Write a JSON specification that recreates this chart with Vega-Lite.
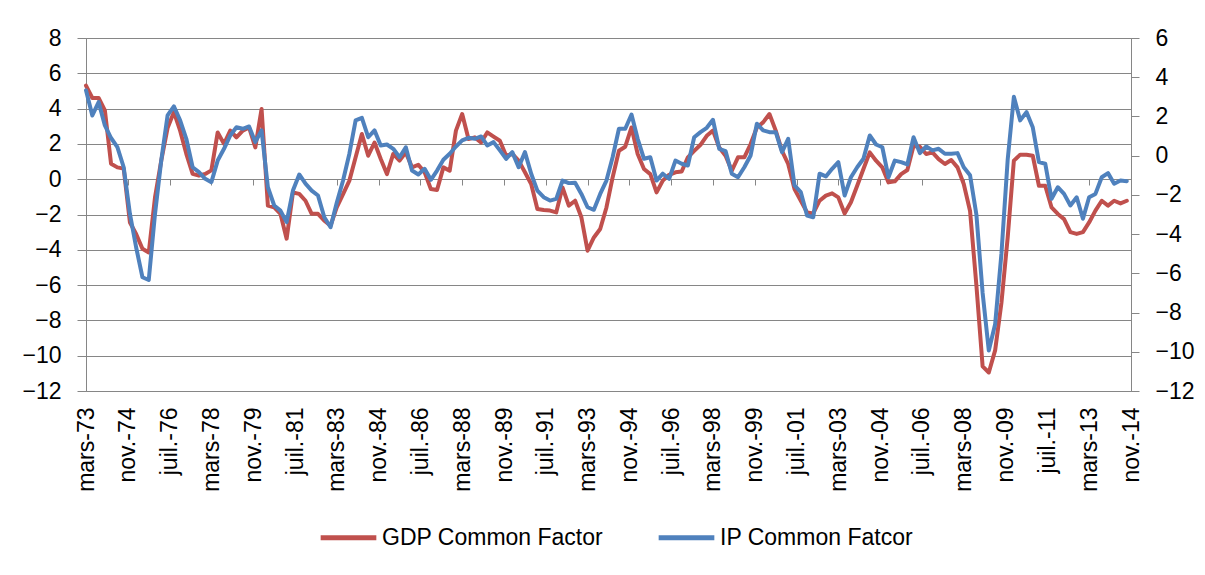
{
"$schema": "https://vega.github.io/schema/vega-lite/v6.json",
"width": 1045,
"height": 353,
"autosize": {"type": "none"},
"padding": {"left": 86, "top": 38, "right": 74, "bottom": 184},
"background": "white",
"config": {
  "font": "Liberation Sans",
  "view": {"stroke": "#868686", "strokeWidth": 1},
  "axis": {"labelFont": "Liberation Sans", "labelFontSize": 23, "labelColor": "#000000", "domainColor": "#868686", "tickColor": "#868686", "gridColor": "#868686", "domainWidth": 1, "tickWidth": 1, "gridWidth": 1}
},
"data": {"values": [
{"d":"1973-03-01","g":5.3,"i":3.33},{"d":"1973-06-01","g":4.6,"i":2.05},{"d":"1973-09-01","g":4.6,"i":2.73},{"d":"1973-12-01","g":3.9,"i":1.54},
{"d":"1974-03-01","g":0.88,"i":0.9},{"d":"1974-06-01","g":0.67,"i":0.44},{"d":"1974-09-01","g":0.6,"i":-0.59},{"d":"1974-12-01","g":-2.45,"i":-2.97},
{"d":"1975-03-01","g":-3.1,"i":-4.67},{"d":"1975-06-01","g":-3.94,"i":-6.2},{"d":"1975-09-01","g":-4.15,"i":-6.34},{"d":"1975-12-01","g":-1.03,"i":-2.97},
{"d":"1976-03-01","g":1.05,"i":-0.25},{"d":"1976-06-01","g":2.9,"i":2.05},{"d":"1976-09-01","g":3.8,"i":2.51},{"d":"1976-12-01","g":2.75,"i":1.8},
{"d":"1977-03-01","g":1.44,"i":0.86},{"d":"1977-06-01","g":0.3,"i":-0.59},{"d":"1977-09-01","g":0.2,"i":-0.84},{"d":"1977-12-01","g":0.3,"i":-1.18},
{"d":"1978-03-01","g":0.5,"i":-1.35},{"d":"1978-06-01","g":2.65,"i":-0.25},{"d":"1978-09-01","g":2.0,"i":0.35},{"d":"1978-12-01","g":2.75,"i":1.03},
{"d":"1979-03-01","g":2.37,"i":1.45},{"d":"1979-06-01","g":2.75,"i":1.37},{"d":"1979-09-01","g":2.93,"i":1.49},{"d":"1979-12-01","g":1.8,"i":0.69},
{"d":"1980-03-01","g":3.98,"i":1.29},{"d":"1980-06-01","g":-1.5,"i":-1.61},{"d":"1980-09-01","g":-1.6,"i":-2.54},{"d":"1980-12-01","g":-1.96,"i":-2.8},
{"d":"1981-03-01","g":-3.37,"i":-3.39},{"d":"1981-06-01","g":-0.75,"i":-1.78},{"d":"1981-09-01","g":-0.83,"i":-0.96},{"d":"1981-12-01","g":-1.22,"i":-1.43},
{"d":"1982-03-01","g":-1.96,"i":-1.78},{"d":"1982-06-01","g":-1.96,"i":-2.03},{"d":"1982-09-01","g":-2.35,"i":-3.14},{"d":"1982-12-01","g":-2.63,"i":-3.65},
{"d":"1983-03-01","g":-1.6,"i":-2.4},{"d":"1983-06-01","g":-0.84,"i":-1.27},{"d":"1983-09-01","g":-0.08,"i":0.1},{"d":"1983-12-01","g":1.24,"i":1.8},
{"d":"1984-03-01","g":2.56,"i":1.93},{"d":"1984-06-01","g":1.33,"i":0.94},{"d":"1984-09-01","g":2.08,"i":1.29},{"d":"1984-12-01","g":1.14,"i":0.52},
{"d":"1985-03-01","g":0.29,"i":0.57},{"d":"1985-06-01","g":1.43,"i":0.35},{"d":"1985-09-01","g":1.05,"i":-0.08},{"d":"1985-12-01","g":1.52,"i":0.43},
{"d":"1986-03-01","g":0.67,"i":-0.76},{"d":"1986-06-01","g":0.82,"i":-0.96},{"d":"1986-09-01","g":0.39,"i":-0.67},{"d":"1986-12-01","g":-0.56,"i":-1.23},
{"d":"1987-03-01","g":-0.61,"i":-0.76},{"d":"1987-06-01","g":0.67,"i":-0.21},{"d":"1987-09-01","g":0.48,"i":0.1},{"d":"1987-12-01","g":2.75,"i":0.47},
{"d":"1988-03-01","g":3.69,"i":0.78},{"d":"1988-06-01","g":2.28,"i":0.91},{"d":"1988-09-01","g":2.37,"i":0.86},{"d":"1988-12-01","g":2.08,"i":0.98},
{"d":"1989-03-01","g":2.65,"i":0.52},{"d":"1989-06-01","g":2.41,"i":0.69},{"d":"1989-09-01","g":2.18,"i":0.27},{"d":"1989-12-01","g":1.33,"i":-0.16},
{"d":"1990-03-01","g":1.43,"i":0.18},{"d":"1990-06-01","g":1.05,"i":-0.59},{"d":"1990-09-01","g":0.39,"i":0.18},{"d":"1990-12-01","g":-0.27,"i":-0.92},
{"d":"1991-03-01","g":-1.69,"i":-1.78},{"d":"1991-06-01","g":-1.75,"i":-2.12},{"d":"1991-09-01","g":-1.78,"i":-2.29},{"d":"1991-12-01","g":-1.88,"i":-2.2},
{"d":"1992-03-01","g":-0.46,"i":-1.27},{"d":"1992-06-01","g":-1.5,"i":-1.4},{"d":"1992-09-01","g":-1.22,"i":-1.38},{"d":"1992-12-01","g":-2.16,"i":-1.95},
{"d":"1993-03-01","g":-4.05,"i":-2.63},{"d":"1993-06-01","g":-3.3,"i":-2.76},{"d":"1993-09-01","g":-2.82,"i":-1.95},{"d":"1993-12-01","g":-1.6,"i":-1.27},
{"d":"1994-03-01","g":0.1,"i":-0.08},{"d":"1994-06-01","g":1.61,"i":1.37},{"d":"1994-09-01","g":1.84,"i":1.37},{"d":"1994-12-01","g":2.93,"i":2.1},
{"d":"1995-03-01","g":1.43,"i":0.86},{"d":"1995-06-01","g":0.58,"i":-0.16},{"d":"1995-09-01","g":0.29,"i":-0.08},{"d":"1995-12-01","g":-0.75,"i":-1.27},
{"d":"1996-03-01","g":-0.08,"i":-0.92},{"d":"1996-06-01","g":0.25,"i":-1.18},{"d":"1996-09-01","g":0.39,"i":-0.25},{"d":"1996-12-01","g":0.44,"i":-0.41},
{"d":"1997-03-01","g":1.24,"i":-0.5},{"d":"1997-06-01","g":1.6,"i":0.94},{"d":"1997-09-01","g":1.95,"i":1.2},{"d":"1997-12-01","g":2.46,"i":1.42},
{"d":"1998-03-01","g":2.75,"i":1.83},{"d":"1998-06-01","g":1.8,"i":0.35},{"d":"1998-09-01","g":1.33,"i":0.23},{"d":"1998-12-01","g":0.48,"i":-0.92},
{"d":"1999-03-01","g":1.24,"i":-1.1},{"d":"1999-06-01","g":1.24,"i":-0.59},{"d":"1999-09-01","g":1.99,"i":0.01},{"d":"1999-12-01","g":2.93,"i":1.63},
{"d":"2000-03-01","g":3.22,"i":1.29},{"d":"2000-06-01","g":3.69,"i":1.2},{"d":"2000-09-01","g":2.75,"i":1.2},{"d":"2000-12-01","g":1.61,"i":0.18},
{"d":"2001-03-01","g":0.86,"i":0.86},{"d":"2001-06-01","g":-0.56,"i":-1.52},{"d":"2001-09-01","g":-1.22,"i":-1.86},{"d":"2001-12-01","g":-1.88,"i":-3.05},
{"d":"2002-03-01","g":-1.94,"i":-3.14},{"d":"2002-06-01","g":-1.22,"i":-0.92},{"d":"2002-09-01","g":-0.93,"i":-1.06},{"d":"2002-12-01","g":-0.8,"i":-0.67},
{"d":"2003-03-01","g":-1.03,"i":-0.33},{"d":"2003-06-01","g":-1.94,"i":-2.03},{"d":"2003-09-01","g":-1.31,"i":-1.1},{"d":"2003-12-01","g":-0.37,"i":-0.59},
{"d":"2004-03-01","g":0.58,"i":-0.16},{"d":"2004-06-01","g":1.52,"i":1.03},{"d":"2004-09-01","g":1.05,"i":0.57},{"d":"2004-12-01","g":0.67,"i":0.43},
{"d":"2005-03-01","g":-0.18,"i":-1.1},{"d":"2005-06-01","g":-0.12,"i":-0.25},{"d":"2005-09-01","g":0.29,"i":-0.33},{"d":"2005-12-01","g":0.52,"i":-0.45},
{"d":"2006-03-01","g":1.9,"i":0.94},{"d":"2006-06-01","g":1.84,"i":0.13},{"d":"2006-09-01","g":1.43,"i":0.47},{"d":"2006-12-01","g":1.52,"i":0.27},
{"d":"2007-03-01","g":1.14,"i":0.35},{"d":"2007-06-01","g":0.86,"i":0.1},{"d":"2007-09-01","g":1.09,"i":0.1},{"d":"2007-12-01","g":0.67,"i":0.13},
{"d":"2008-03-01","g":-0.27,"i":-0.59},{"d":"2008-06-01","g":-1.8,"i":-1.0},{"d":"2008-09-01","g":-6.0,"i":-3.0},{"d":"2008-12-01","g":-10.6,"i":-7.0},
{"d":"2009-03-01","g":-10.95,"i":-9.94},{"d":"2009-06-01","g":-9.7,"i":-8.6},{"d":"2009-09-01","g":-7.0,"i":-5.0},{"d":"2009-12-01","g":-3.3,"i":-0.2},
{"d":"2010-03-01","g":1.05,"i":3.0},{"d":"2010-06-01","g":1.39,"i":1.8},{"d":"2010-09-01","g":1.39,"i":2.22},{"d":"2010-12-01","g":1.33,"i":1.45},
{"d":"2011-03-01","g":-0.37,"i":-0.33},{"d":"2011-06-01","g":-0.37,"i":-0.41},{"d":"2011-09-01","g":-1.6,"i":-2.2},{"d":"2011-12-01","g":-1.97,"i":-1.61},
{"d":"2012-03-01","g":-2.26,"i":-1.95},{"d":"2012-06-01","g":-3.0,"i":-2.54},{"d":"2012-09-01","g":-3.1,"i":-2.12},{"d":"2012-12-01","g":-3.0,"i":-3.22},
{"d":"2013-03-01","g":-2.45,"i":-2.12},{"d":"2013-06-01","g":-1.78,"i":-1.95},{"d":"2013-09-01","g":-1.22,"i":-1.1},{"d":"2013-12-01","g":-1.5,"i":-0.89},
{"d":"2014-03-01","g":-1.22,"i":-1.43},{"d":"2014-06-01","g":-1.37,"i":-1.27},{"d":"2014-09-01","g":-1.22,"i":-1.3}
]},
"layer": [
  {
    "mark": {"type": "line", "strokeWidth": 4, "strokeJoin": "round", "strokeCap": "round"},
    "encoding": {
      "x": {"field": "d", "type": "temporal",
        "scale": {"type": "utc", "domain": [{"year": 1973, "month": 3, "date": 1, "utc": true}, {"year": 2014, "month": 11, "date": 1, "utc": true}]},
        "axis": {"orient": "bottom", "title": null, "grid": false, "domain": false, "ticks": false,
          "labelAngle": -90, "labelPadding": 16, "labelFlush": false, "labelOverlap": false, "labelBound": false,
          "values": [
            {"year": 1973, "month": 3, "date": 1, "utc": true}, {"year": 1974, "month": 11, "date": 1, "utc": true},
            {"year": 1976, "month": 7, "date": 1, "utc": true}, {"year": 1978, "month": 3, "date": 1, "utc": true},
            {"year": 1979, "month": 11, "date": 1, "utc": true}, {"year": 1981, "month": 7, "date": 1, "utc": true},
            {"year": 1983, "month": 3, "date": 1, "utc": true}, {"year": 1984, "month": 11, "date": 1, "utc": true},
            {"year": 1986, "month": 7, "date": 1, "utc": true}, {"year": 1988, "month": 3, "date": 1, "utc": true},
            {"year": 1989, "month": 11, "date": 1, "utc": true}, {"year": 1991, "month": 7, "date": 1, "utc": true},
            {"year": 1993, "month": 3, "date": 1, "utc": true}, {"year": 1994, "month": 11, "date": 1, "utc": true},
            {"year": 1996, "month": 7, "date": 1, "utc": true}, {"year": 1998, "month": 3, "date": 1, "utc": true},
            {"year": 1999, "month": 11, "date": 1, "utc": true}, {"year": 2001, "month": 7, "date": 1, "utc": true},
            {"year": 2003, "month": 3, "date": 1, "utc": true}, {"year": 2004, "month": 11, "date": 1, "utc": true},
            {"year": 2006, "month": 7, "date": 1, "utc": true}, {"year": 2008, "month": 3, "date": 1, "utc": true},
            {"year": 2009, "month": 11, "date": 1, "utc": true}, {"year": 2011, "month": 7, "date": 1, "utc": true},
            {"year": 2013, "month": 3, "date": 1, "utc": true}, {"year": 2014, "month": 11, "date": 1, "utc": true}
          ],
          "labelExpr": "['janv.','févr.','mars','avr.','mai','juin','juil.','août','sept.','oct.','nov.','déc.'][utcmonth(datum.value)] + '-' + utcFormat(datum.value, '%y')"
        }
      },
      "y": {"field": "g", "type": "quantitative",
        "scale": {"domain": [-12, 8], "nice": false, "zero": false},
        "axis": {"orient": "left", "title": null, "values": [-12, -10, -8, -6, -4, -2, 0, 2, 4, 6, 8], "grid": true, "tickSize": 9, "labelPadding": 16}
      },
      "color": {"datum": "GDP Common Factor", "type": "nominal",
        "scale": {"domain": ["GDP Common Factor", "IP Common Fatcor"], "range": ["#C0504D", "#4F81BD"]},
        "legend": {"orient": "none", "legendX": 232, "legendY": 469, "direction": "horizontal", "title": null,
          "symbolType": "stroke", "symbolSize": 3100, "symbolStrokeWidth": 5, "labelFont": "Liberation Sans",
          "labelFontSize": 23, "labelColor": "#000000", "labelOffset": 3, "columnPadding": 44, "labelLimit": 400, "padding": 0}
      }
    }
  },
  {
    "mark": {"type": "line", "strokeWidth": 4, "strokeJoin": "round", "strokeCap": "round"},
    "encoding": {
      "x": {"field": "d", "type": "temporal",
        "axis": {"orient": "bottom", "title": null, "grid": false, "labels": false, "domain": true, "ticks": true, "tickSize": 6, "offset": -212,
          "values": [
            {"year": 1973, "month": 3, "date": 1, "utc": true}, {"year": 1974, "month": 11, "date": 1, "utc": true},
            {"year": 1976, "month": 7, "date": 1, "utc": true}, {"year": 1978, "month": 3, "date": 1, "utc": true},
            {"year": 1979, "month": 11, "date": 1, "utc": true}, {"year": 1981, "month": 7, "date": 1, "utc": true},
            {"year": 1983, "month": 3, "date": 1, "utc": true}, {"year": 1984, "month": 11, "date": 1, "utc": true},
            {"year": 1986, "month": 7, "date": 1, "utc": true}, {"year": 1988, "month": 3, "date": 1, "utc": true},
            {"year": 1989, "month": 11, "date": 1, "utc": true}, {"year": 1991, "month": 7, "date": 1, "utc": true},
            {"year": 1993, "month": 3, "date": 1, "utc": true}, {"year": 1994, "month": 11, "date": 1, "utc": true},
            {"year": 1996, "month": 7, "date": 1, "utc": true}, {"year": 1998, "month": 3, "date": 1, "utc": true},
            {"year": 1999, "month": 11, "date": 1, "utc": true}, {"year": 2001, "month": 7, "date": 1, "utc": true},
            {"year": 2003, "month": 3, "date": 1, "utc": true}, {"year": 2004, "month": 11, "date": 1, "utc": true},
            {"year": 2006, "month": 7, "date": 1, "utc": true}, {"year": 2008, "month": 3, "date": 1, "utc": true},
            {"year": 2009, "month": 11, "date": 1, "utc": true}, {"year": 2011, "month": 7, "date": 1, "utc": true},
            {"year": 2013, "month": 3, "date": 1, "utc": true}, {"year": 2014, "month": 11, "date": 1, "utc": true}
          ]
        }
      },
      "y": {"field": "i", "type": "quantitative",
        "scale": {"domain": [-12, 6], "nice": false, "zero": false},
        "axis": {"orient": "right", "title": null, "values": [-12, -10, -8, -6, -4, -2, 0, 2, 4, 6], "grid": false, "tickSize": 8, "labelPadding": 16}
      },
      "color": {"datum": "IP Common Fatcor", "type": "nominal"}
    }
  }
],
"resolve": {"scale": {"y": "independent"}, "axis": {"x": "independent"}}
}
